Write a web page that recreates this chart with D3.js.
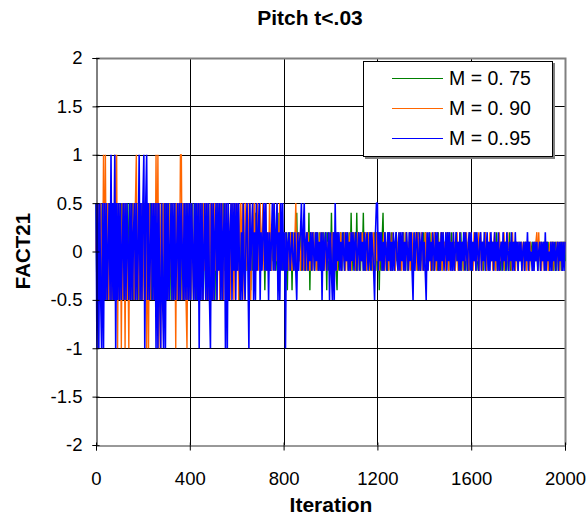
<!DOCTYPE html>
<html>
<head>
<meta charset="utf-8">
<script src="https://cdn.jsdelivr.net/npm/d3@7"></script>
<style>
html,body{margin:0;padding:0;background:#fff;}
svg{display:block;font-family:"Liberation Sans",Arial,sans-serif;}
</style>
</head>
<body>
<svg id="chart" width="587" height="519"></svg>
<script>
const iterStep = 4;
const seriesNames = ["M = 0. 75", "M = 0. 90", "M = 0..95"];
const seriesColors = ["#008000", "#FF6600", "#0000FF"];
const xTicks = [0, 400, 800, 1200, 1600, 2000];
const yTicks = [-2, -1.5, -1, -0.5, 0, 0.5, 1, 1.5, 2];

const m075 = [
 0.5,-0.5,0.5,0,-0.5,0.5,-0.5,0.5,-0.5,0,0.5,-0.5,0.5,-0.5,0.5,0,-0.5,0.5,-0.5,0.5,-0.5,0,0.5,-0.5,0.5,
 -0.5,0,0.5,-0.5,0.5,-0.5,0.5,0,-0.5,0.5,-0.5,0.5,-0.5,0,0.5,-0.5,0.5,-0.5,0.5,0,-0.5,0.5,-0.5,0.5,-0.5,
 0.5,0,-0.5,0.5,-0.5,0.5,-0.5,0,0.5,-0.5,0.5,-0.5,0.5,0,-0.5,0.5,-0.5,0.5,-0.5,0,0.5,-0.5,0.5,-0.5,0.5,
 -0.5,0.5,0,-0.5,0.5,-0.5,0.5,-0.5,0,0.5,-0.5,0.5,-0.5,0.5,0,-0.5,0.5,-0.5,0.5,-0.5,0,0.5,-0.5,0.5,-0.5,
 0.5,-0.5,0.2,0.5,-0.5,0,0.5,-0.5,0.5,-0.2,0.5,-0.5,0.2,0.5,-0.5,0.5,0,-0.5,0.5,-0.2,0.5,-0.5,0.2,0.5,-0.5,
 0.5,-0.2,0.2,-0.5,0.5,-0.2,0.2,0.5,-0.5,0.2,-0.2,0.5,-0.2,0.2,0.4,-0.2,0.2,-0.5,0.2,-0.2,0.5,-0.2,0.2,0.4,-0.2,
 0.2,-0.2,0.2,-0.5,0.2,-0.2,0.1,0.2,-0.2,0.2,0,-0.2,0.2,-0.1,0.2,-0.4,0.2,-0.2,0.1,-0.2,0.4,-0.2,0.2,-0.1,0.2,
 0.4,-0.2,0.2,-0.1,0.2,-0.4,0.2,-0.2,0.1,-0.2,0.2,0,-0.2,0.2,-0.1,0.2,-0.2,0.1,-0.2,0.4,-0.2,0.2,-0.1,0.2,-0.2,
 0.2,-0.1,0.2,-0.2,-0.4,0.2,-0.2,0.1,0.2,-0.4,0.2,-0.2,0.1,-0.2,0.4,-0.2,0.2,-0.1,0.2,-0.2,0,0.2,-0.2,0.1,-0.2,
 0.2,-0.2,0.4,-0.4,0.2,-0.2,0.1,0.2,-0.2,0,0.2,-0.1,-0.2,0.2,-0.2,0.1,0.2,-0.2,0.2,-0.1,0.2,-0.4,0.2,-0.2,0.1,
 -0.2,0.4,-0.2,0.2,-0.1,0.2,-0.2,-0.4,0.2,-0.2,0.1,0.2,-0.2,0,0.2,-0.2,0.1,-0.1,0.2,-0.2,0.2,-0.2,0.4,-0.2,0.2,
 -0.1,0.2,-0.2,0.4,-0.2,0.2,0,-0.2,0.2,-0.1,0.4,-0.2,0.2,-0.2,0.1,0.2,-0.2,0,0.2,-0.2,0.1,-0.1,0.2,-0.2,0.2,
 -0.2,0.2,-0.4,0.2,-0.2,0.1,0.4,-0.2,0.2,-0.1,0,-0.2,0.2,0.1,-0.2,0.2,-0.2,0,0.1,-0.2,0.2,-0.1,0.1,-0.2,0.2,
 -0.2,0.1,-0.1,0.2,-0.2,0,0.2,-0.2,0.1,-0.1,0.2,-0.2,0.1,0,-0.2,0.2,-0.1,0.1,-0.2,0.2,0,-0.2,0.1,-0.1,0.2,
 -0.2,0.2,0,-0.2,0.1,-0.1,0.2,-0.2,0.1,0,-0.2,0.2,-0.1,0.1,-0.2,0.2,-0.2,0,0.1,-0.2,0.2,-0.1,0.1,-0.2,0,
 0.2,-0.2,0.1,-0.1,0.2,-0.2,0,0.1,-0.2,0.2,-0.1,0.1,-0.2,0,0.2,-0.2,0.1,-0.1,0.2,-0.2,0.1,0,-0.2,0.2,-0.1,
 0.1,-0.2,0,0.1,-0.1,0.2,-0.2,0.1,-0.2,0,0.1,-0.1,0.1,-0.2,0.1,0.2,-0.2,0,0.1,-0.2,0.1,-0.1,0,0.1,-0.2,
 0.1,-0.1,0.2,-0.2,0,0.1,-0.2,0.1,-0.1,0.1,-0.2,0,0.1,-0.2,0.1,-0.1,0.2,-0.2,0,0.1,-0.1,0.1,-0.2,0.1,0,
 -0.2,0.1,-0.1,0.1,-0.2,0,0.1,-0.2,0.1,-0.1,0,0.1,-0.2,0.1,-0.1,0.1,-0.2,0,0.1,-0.1,0.1,-0.2,0,0.1,-0.2,
 0.1,-0.1,0,0.1,-0.2,0.1,-0.1,0.1,-0.2,0,0.1,-0.1,0.1,-0.2,0,0.1,-0.2,0.1,-0.1,0,0.1,-0.2,0.1,-0.1,0.1,
 -0.1
];

const m090 = [
 0,0.5,-0.5,0.5,-0.5,0.5,0,-0.5,1,-0.5,1,-0.5,0.5,-0.5,0.5,-0.5,0.5,-0.5,0.5,-0.5,1,-0.5,1,-1,0.5,
 -0.5,0.5,-1,0.5,-0.5,0.5,-1,0.5,-0.5,0,-1,0.5,-0.5,0.5,-0.5,0.5,-0.5,0.5,1,-0.5,0.5,-0.5,0.5,-0.5,0.5,
 -0.5,0.5,-0.5,0.5,-1,0.5,-1,0.5,-0.5,0,0.5,-0.5,0.5,-0.5,1,-0.5,1,-1,0.5,-1,0.5,-0.5,0.5,0,-0.5,
 0.5,-0.5,0.5,-0.5,0.5,0,-0.5,0.5,-0.5,0.5,-1,0.5,-0.5,0.5,-0.5,1,1,-0.5,0.5,-0.5,0.5,-0.5,-1,0.5,-0.5,
 0.5,-0.5,0.5,0,-0.5,0.5,-0.5,0.2,0.5,-0.5,0.5,-0.5,0,0.5,-0.5,0.5,-0.2,0.5,-0.5,0.5,-0.5,0.2,0.5,-0.5,0.5,
 -0.5,0.5,-0.2,0.5,-0.5,0.2,0.5,-0.5,0.5,-0.2,0.5,-0.5,0.2,0.5,-0.2,-0.5,0.5,0.2,-0.5,0.5,-0.2,0.5,-0.5,0.2,0.5,
 -0.2,0.5,-0.5,0.2,0.5,-0.2,0.5,0,-0.5,0.5,-0.2,0.2,0.5,-0.2,0.5,-0.5,0.2,0.5,-0.2,0.5,0.1,-0.2,0.5,-0.2,0.2,
 0.5,-0.2,0.2,0.5,-0.2,0.1,0.5,-0.2,0.2,-0.2,0.5,0.1,-0.2,0.2,0.5,-0.2,0.2,-0.1,0.5,-0.2,0.2,0.5,-0.2,0.1,0.2,
 -0.2,0.2,-0.1,0.2,-0.2,0.1,-0.2,0.2,0,-0.2,0.2,-0.2,0.1,0.5,-0.2,0.2,-0.1,0.2,-0.2,0,0.2,-0.2,0.1,-0.2,0.2,
 -0.2,0.2,0,-0.2,0.1,0.2,-0.2,0.2,-0.1,0.1,-0.2,0.2,-0.2,0,0.2,-0.1,-0.2,0.2,0.1,-0.2,0.2,-0.2,0.1,-0.1,0.2,
 -0.2,0.1,0.2,-0.2,0.2,-0.1,0,-0.2,0.2,0.1,-0.2,0.2,-0.2,0.1,-0.1,0.2,-0.2,0,0.2,-0.2,0.1,0.2,-0.2,0.2,-0.1,
 0.2,-0.2,0.1,-0.2,0.2,0,-0.2,0.2,-0.1,0.2,-0.2,0.1,0.2,-0.2,0,0.2,-0.2,0.1,-0.1,0.2,-0.2,0.2,0,-0.2,0.2,
 -0.1,0.2,-0.2,0.1,0.2,-0.2,0,0.2,-0.2,0.1,-0.1,0.2,-0.2,0.2,0.1,-0.2,0.2,-0.1,0,-0.2,0.2,0.1,-0.2,0.2,-0.2,
 0.1,-0.2,0.2,0,-0.2,0.2,-0.1,0.1,-0.2,0.2,-0.2,0.1,0.2,-0.2,0,-0.1,0.2,-0.2,0.2,0.1,-0.2,0,0.2,-0.2,0.1,
 -0.2,0.2,-0.1,0.2,-0.2,0.1,0,-0.2,0.2,-0.2,0.1,0.2,-0.1,-0.2,0.2,0,-0.2,0.1,0.2,-0.2,0.2,-0.1,0.1,-0.2,0.2,
 0,-0.2,0.2,-0.1,0.1,-0.2,0.2,0,-0.2,0.1,0.2,-0.2,-0.1,0.2,-0.2,0.1,0,-0.2,0.2,-0.1,0.2,-0.2,0.1,-0.2,0.2,
 -0.1,0.1,-0.2,0.2,0,-0.2,0.1,-0.1,0.2,-0.2,0.2,0,-0.2,0.1,-0.1,0.2,-0.2,0.1,0,-0.2,0.2,-0.1,0.1,-0.2,0.1,
 0.2,-0.2,0,0.1,-0.2,0.2,-0.1,0.1,-0.2,0,0.2,-0.2,0.1,-0.1,0.2,-0.2,0,0.1,-0.2,0.2,-0.1,0.1,-0.2,0,0.1,
 -0.2,0.1,-0.1,0,0.1,-0.2,0.1,-0.1,0.1,-0.2,0,0.1,-0.2,0.1,-0.1,0,-0.2,0.1,-0.1,0.1,0.2,-0.2,0.2,-0.1,0.1,
 -0.2,0,0.1,-0.2,0.1,-0.1,0.1,-0.2,0,0.1,-0.1,0.1,-0.2,0.1,0,-0.2,0.1,-0.1,0.1,-0.2,0,0.1,-0.2,0.1,-0.1,
 0.1
];

const m095 = [
 0.5,-1,0.5,-1,0.5,-0.5,-1,0.5,-1,0.5,-0.5,0.5,-0.5,0,0.5,-0.5,1,-0.5,0.5,-0.5,1,-1,0.5,-0.5,0.5,
 -0.5,0.5,-0.5,0,0.5,-0.5,0.5,-0.5,0.5,0,-0.5,0.5,-0.5,0.5,-0.5,0.2,0.5,-0.5,0.5,-0.5,0,1,-0.5,0.5,-0.5,
 0.5,1,-1,0.5,1,-0.5,0.5,-0.5,0,0.5,-0.5,0.5,-0.5,0.5,-1,0.5,-1,0.5,-0.5,-1,0.5,-0.5,-1,0.5,-1,
 0.5,-0.5,0.5,-0.5,0,0.5,-0.5,0.5,-0.5,0.5,-0.5,0,0.5,-0.5,0.5,-0.5,0.5,0,-0.5,0.5,-0.5,0.5,-0.5,0.5,-0.5,
 0.5,-0.5,0.5,0,-0.5,0.5,-0.5,0.5,-0.5,0.5,-1,0.5,-0.5,0.5,-0.5,0,0.5,-0.5,0.5,-0.5,0.5,-0.5,-1,0.5,-0.5,
 0.5,-0.5,0.2,0.5,-0.5,0.5,-0.2,0.5,-0.5,0.5,-0.5,0.2,0.5,-1,0.5,-1,0.5,-0.5,0.2,0.5,-0.5,0.5,-0.2,0.5,-0.5,
 0.5,-0.2,0.5,-0.2,-0.5,0.2,-0.5,0.5,-0.2,-0.5,0.2,0.5,-0.2,-1,0.5,-0.2,0.2,0.5,-0.5,0.2,-0.5,0.5,-0.2,0.2,0.5,
 -0.5,0.2,-0.2,0.2,0.5,-0.2,0.5,-0.2,0.2,-0.5,0.2,-0.2,0.1,0.5,-0.2,0.5,-0.2,0.2,0.5,-0.5,0.2,-0.5,0.5,-0.2,0.5,
 -0.2,0.2,-1,0.2,-0.2,0.1,0.2,-0.2,0,0.2,-0.1,-0.2,0.2,-0.2,-0.5,0.2,-0.2,0.1,0.2,0.5,-0.2,0.2,0.5,-0.2,0.1,
 0.2,-0.2,0.1,-0.1,0.2,-0.2,0.2,0,-0.2,0.2,-0.1,0.2,-0.2,0.1,-0.2,0.2,-0.5,0.2,-0.2,0.1,0.2,-0.2,0,0.2,-0.5,
 0.2,-0.2,-0.5,0.2,-0.5,0.5,-0.2,0.2,-0.1,0.2,-0.2,0.1,-0.2,0.2,0,-0.2,0.2,-0.1,0.2,-0.2,0.1,-0.2,0.2,-0.1,0.2,
 -0.2,0.1,0.2,-0.2,0,0.2,-0.2,0.2,-0.1,0.1,-0.2,0.2,-0.2,0.1,0.2,-0.2,-0.1,0.2,-0.2,0.2,0,-0.2,-0.5,0.2,0.5,
 0.5,-0.2,0.2,-0.1,0.2,-0.2,0.1,-0.2,0.2,0,-0.2,0.2,-0.1,0.2,-0.2,0.1,-0.2,0.2,-0.2,0.1,0.2,-0.1,-0.2,0.2,-0.2,
 0.2,-0.1,0.2,-0.2,0.1,-0.2,0.2,0,-0.2,0.2,-0.1,0.2,-0.2,-0.5,0.2,-0.2,0.1,0.2,-0.1,-0.2,0.2,-0.2,0.1,0.2,-0.2,
 0.1,-0.2,-0.5,0.2,-0.2,0.2,-0.1,0.1,-0.2,0.2,0,-0.2,0.2,-0.1,0.2,-0.2,0.1,-0.2,0.2,-0.1,0.2,-0.2,0,0.2,-0.2,
 0.2,-0.1,0.2,-0.2,0.1,-0.2,0.2,-0.2,0,0.2,-0.1,0.1,-0.2,0.2,-0.2,0.1,-0.1,0.2,-0.2,0.2,0,-0.2,0.1,0.2,-0.2,
 0.2,-0.2,0.1,-0.1,0.2,-0.2,0.2,0,-0.2,0.1,0.2,-0.2,0.1,-0.1,0.2,-0.2,0,0.2,-0.2,0.1,-0.2,0.2,-0.1,0.1,-0.2,
 0.2,-0.1,0.1,-0.2,0.2,-0.2,0,0.1,-0.2,0.2,-0.1,0.1,-0.2,0.2,0,-0.2,0.1,-0.1,0.2,-0.2,0.1,-0.2,0.2,-0.1,0.1,
 -0.2,0.1,-0.1,0.1,-0.2,0,0.1,-0.2,0.1,-0.1,0.2,-0.2,0.1,-0.1,0,-0.2,0.1,-0.2,0.1,-0.1,0.1,-0.2,0,0.1,-0.2,
 0.1,-0.1,0.1,-0.2,0.2,-0.2,0.1,-0.1,0,-0.2,0.1,-0.2,0.1,-0.1,0.1,-0.2,0,0.1,-0.2,0.1,-0.1,0.1,-0.2,0.1,-0.2,
 0.1
];

const seriesValues = [m075, m090, m095];
const seriesWidths = [1.4, 1.4, 1.6];

// ---- layout ----
const svg = d3.select("#chart");
const L = 96, R = 565, T = 58, B = 445;
const x = d3.scaleLinear().domain([0, 2000]).range([L, R]);
const y = d3.scaleLinear().domain([-2, 2]).range([B, T]);
const FONT = "Liberation Sans, Arial, sans-serif";

// horizontal grid
svg.append("g").selectAll("line").data(yTicks.filter(v => v > -2 && v < 2)).join("line")
  .attr("x1", L).attr("x2", R)
  .attr("y1", d => Math.round(y(d)) + 0.5).attr("y2", d => Math.round(y(d)) + 0.5)
  .attr("stroke", "#000").attr("stroke-width", 1);
// vertical grid
svg.append("g").selectAll("line").data(xTicks.filter(v => v > 0 && v < 2000)).join("line")
  .attr("x1", d => Math.round(x(d)) + 0.5).attr("x2", d => Math.round(x(d)) + 0.5)
  .attr("y1", T).attr("y2", B)
  .attr("stroke", "#000").attr("stroke-width", 1);
// top & right border (gray)
svg.append("path")
  .attr("d", `M${L},${T + 0.5}H${R + 0.5}V${B}`)
  .attr("fill", "none").attr("stroke", "#808080").attr("stroke-width", 2);

// series lines
const line = d3.line()
  .x((d, i) => x(i * iterStep))
  .y(d => y(d));
seriesValues.forEach((vals, k) => {
  svg.append("path")
    .datum(vals)
    .attr("d", line)
    .attr("fill", "none")
    .attr("stroke", seriesColors[k])
    .attr("stroke-width", seriesWidths[k])
    .attr("stroke-linejoin", "bevel");
});

// axes
const yAxis = d3.axisLeft(y).tickValues(yTicks).tickSize(4).tickPadding(10)
  .tickFormat(d => String(d));
const gy = svg.append("g").attr("transform", `translate(${L + 0.5},0)`).call(yAxis);
gy.select(".domain").attr("stroke", "#000");
gy.selectAll(".tick line").attr("stroke", "#000").attr("x2", -4).attr("x1", 3);
gy.selectAll("text").attr("font-size", 18.5).attr("fill", "#000").attr("font-family", FONT);

const xAxis = d3.axisBottom(x).tickValues(xTicks).tickSize(5).tickPadding(21)
  .tickFormat(d3.format("d"));
const gx = svg.append("g").attr("transform", `translate(0,${B + 0.5})`).call(xAxis);
gx.select(".domain").attr("stroke", "#333");
gx.selectAll(".tick line").attr("stroke", "#000").attr("y1", -3);
gx.selectAll("text").attr("font-size", 18.5).attr("fill", "#000").attr("font-family", FONT);

// titles
svg.append("text").attr("x", 310).attr("y", 25).attr("text-anchor", "middle")
  .attr("font-size", 21).attr("font-weight", "bold").text("Pitch t<.03");
svg.append("text").attr("x", 331).attr("y", 512).attr("text-anchor", "middle")
  .attr("font-size", 21).attr("font-weight", "bold").text("Iteration");
svg.append("text").attr("transform", "translate(30,251) rotate(-90)").attr("text-anchor", "middle")
  .attr("font-size", 20.5).attr("font-weight", "bold").text("FACT21");

// legend
const lg = svg.append("g");
lg.append("rect").attr("x", 365).attr("y", 63).attr("width", 190).attr("height", 96)
  .attr("fill", "#808080");
lg.append("rect").attr("x", 363.5).attr("y", 61.5).attr("width", 189).attr("height", 95)
  .attr("fill", "#fff").attr("stroke", "#000").attr("stroke-width", 1);
seriesNames.forEach((name, k) => {
  const yy = 78 + k * 30;
  lg.append("line").attr("x1", 392).attr("x2", 443).attr("y1", yy + 0.5).attr("y2", yy + 0.5)
    .attr("stroke", seriesColors[k]).attr("stroke-width", 1.2);
  lg.append("text").attr("x", 449).attr("y", yy + 7).attr("font-size", 19.5)
    .attr("fill", "#000").text(name);
});
</script>
</body>
</html>
